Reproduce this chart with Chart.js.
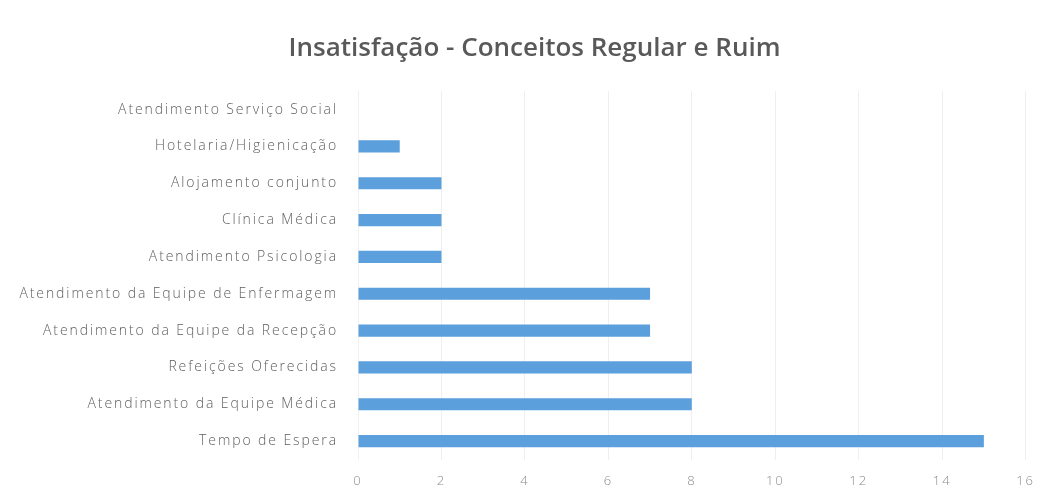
<!DOCTYPE html>
<html>
<head>
<meta charset="utf-8">
<script src="https://cdn.jsdelivr.net/npm/chart.js@4"></script>
<style>
    html, body { margin: 0; padding: 0; background: #ffffff; }
    #wrap { width: 1047px; height: 497px; }
</style>
</head>
<body>
<div id="wrap"><canvas id="bar-chart"></canvas></div>
<script>
const categories = [
    'Atendimento Serviço Social',
    'Hotelaria/Higienicação',
    'Alojamento conjunto',
    'Clínica Médica',
    'Atendimento Psicologia',
    'Atendimento da Equipe de Enfermagem',
    'Atendimento da Equipe da Recepção',
    'Refeições Oferecidas',
    'Atendimento da Equipe Médica',
    'Tempo de Espera'
];
const counts = [0, 1, 2, 2, 2, 7, 7, 8, 8, 15];
const xTicks = [0, 2, 4, 6, 8, 10, 12, 14, 16];

// axis labels in the original are widely spaced, the title is not,
// and the title sits a bit right of the canvas centre
const excelLook = {
    id: 'excelLook',
    afterLayout: function (chart) {
        chart.titleBlock.left += 13;
        chart.titleBlock.right += 13;
    },
    beforeDraw: function (chart) {
        const c = chart.ctx;
        if (c._spaced) return;
        const fill = c.fillText.bind(c);
        c.fillText = function (text, x, y) {
            c.letterSpacing = c.font.indexOf('300') >= 0 ? '1.9px' : '0px';
            fill(text, x, y);
        };
        c._spaced = true;
    }
};

const ctx = document.getElementById('bar-chart');

new Chart(ctx, {
    type: 'bar',
    plugins: [excelLook],
    data: {
        labels: categories,
        datasets: [{
            label: 'Insatisfação',
            data: counts,
            backgroundColor: '#5b9fdc',
            barPercentage: 0.33,
            categoryPercentage: 1
        }]
    },
    options: {
        indexAxis: 'y',
        responsive: true,
        maintainAspectRatio: false,
        animation: false,
        layout: {
            padding: { top: 33, right: 14, bottom: 0, left: 10 }
        },
        plugins: {
            legend: { display: false },
            tooltip: { enabled: false },
            title: {
                display: true,
                text: 'Insatisfação - Conceitos Regular e Ruim',
                color: '#595959',
                font: { family: 'Open Sans', size: 26, weight: '600' },
                padding: { top: 0, bottom: 27 }
            }
        },
        scales: {
            x: {
                min: 0,
                max: 16,
                afterBuildTicks: function (axis) {
                    axis.ticks = xTicks.map(v => ({ value: v }));
                },
                afterFit: function (axis) {
                    axis.height = 37.5;
                },
                grid: { color: '#efefef', drawTicks: false },
                border: { display: false },
                ticks: {
                    color: '#8c8c8c',
                    padding: 14,
                    font: { family: 'Open Sans', size: 13, weight: '300' }
                }
            },
            y: {
                grid: { display: false },
                border: { color: '#f0f0f0' },
                afterFit: function (axis) {
                    axis.width = 348;
                },
                ticks: {
                    color: '#606060',
                    padding: 12,
                    font: { family: 'Open Sans', size: 14, weight: '300' }
                }
            }
        }
    }
});
</script>
</body>
</html>
